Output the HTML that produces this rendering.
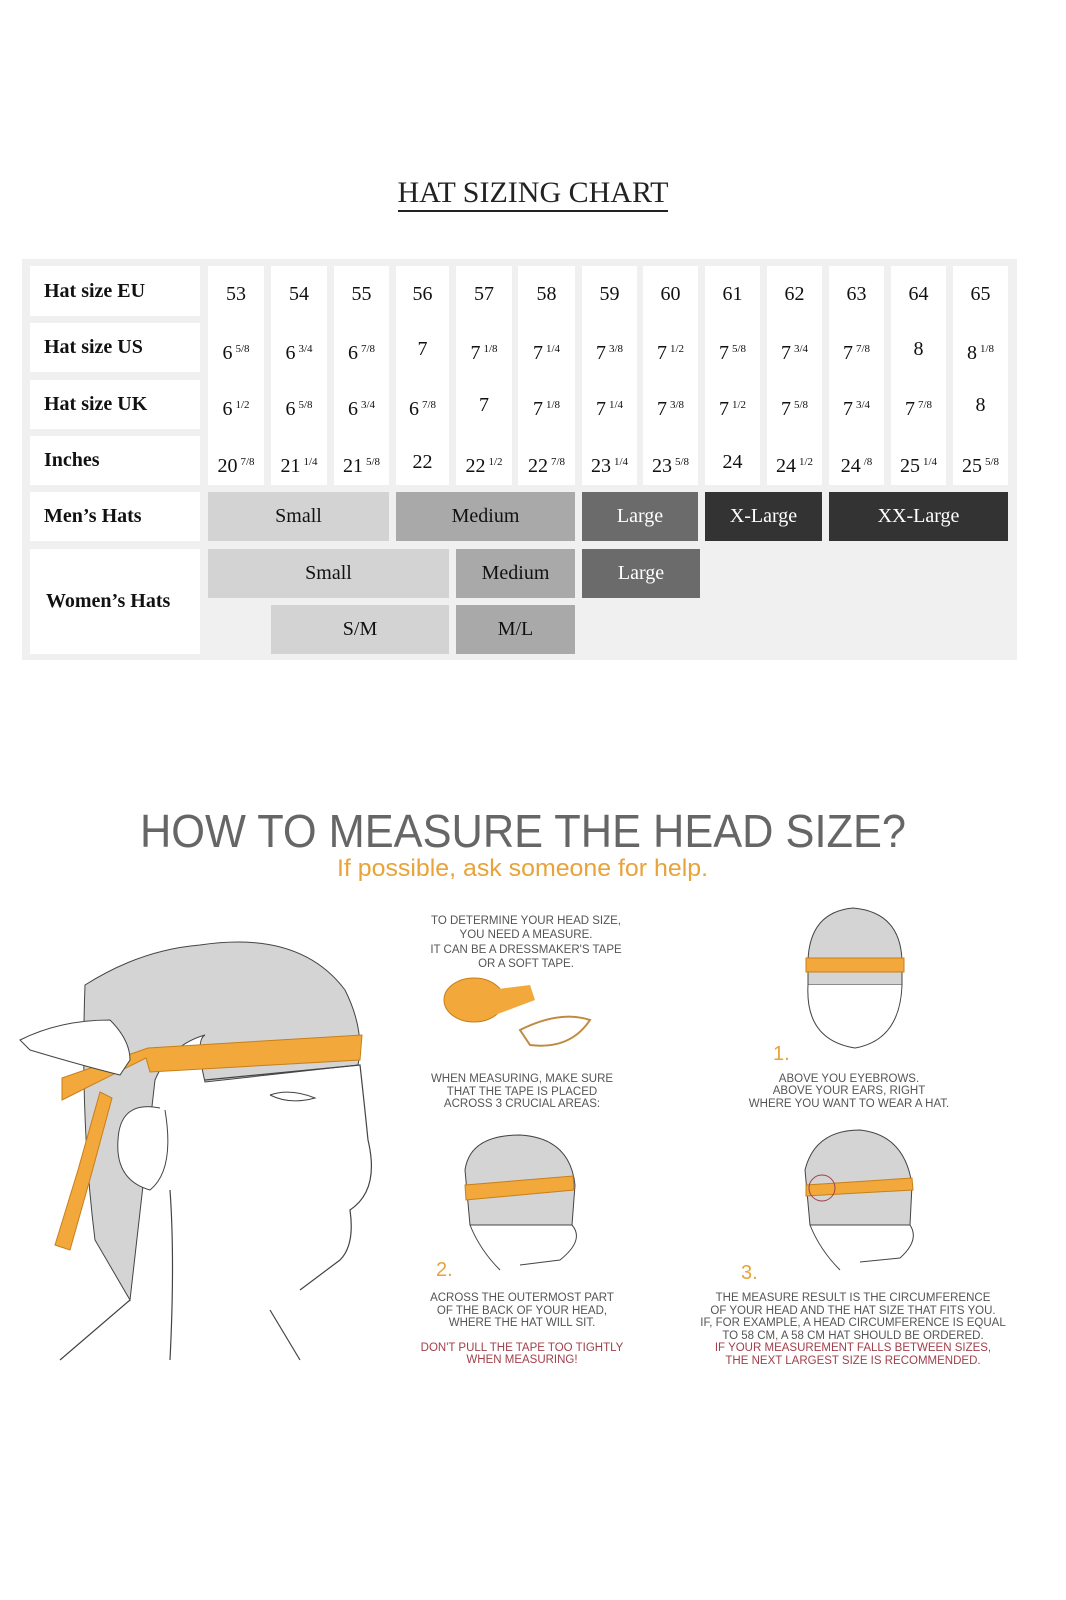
<!DOCTYPE html>
<html><head><meta charset="utf-8"><style>
*{margin:0;padding:0;box-sizing:border-box}
body{width:1066px;height:1600px;background:#fff;position:relative;overflow:hidden;font-family:"Liberation Serif",serif;color:#111}
.a{position:absolute}
.tb{position:absolute;left:22px;top:259px;width:995px;height:401px;background:#f0f0f0}
.lb{position:absolute;left:30px;width:170px;background:#fff;font-weight:bold;font-size:20px;padding-left:14px;display:flex;align-items:center}
.col{position:absolute;top:266px;height:219px;background:#fff}
.v{position:absolute;left:0;right:0;text-align:center;font-size:20px;line-height:20px}
.v sup{font-size:11px;vertical-align:7px;margin-left:3px}
.bd{position:absolute;display:flex;align-items:center;justify-content:center;font-size:20px}
</style></head><body>
<div class="a" style="left:0;width:1066px;top:176px;text-align:center;font-size:30px;color:#222"><span style="border-bottom:2px solid #222;padding-bottom:1px">HAT SIZING CHART</span></div>
<div class="tb"></div>
<div class="lb" style="top:266px;height:50px">Hat size EU</div>
<div class="lb" style="top:323px;height:49px">Hat size US</div>
<div class="lb" style="top:380px;height:49px">Hat size UK</div>
<div class="lb" style="top:436px;height:49px">Inches</div>
<div class="lb" style="top:492px;height:49px">Men’s Hats</div>
<div class="lb" style="top:549px;height:105px;padding-left:16px">Women’s Hats</div>

<div class="col" style="left:208px;width:56px"><div class="v" style="top:18px">53</div><div class="v" style="top:73px">6<sup>5/8</sup></div><div class="v" style="top:129px">6<sup>1/2</sup></div><div class="v" style="top:186px">20<sup>7/8</sup></div></div>
<div class="col" style="left:271px;width:56px"><div class="v" style="top:18px">54</div><div class="v" style="top:73px">6<sup>3/4</sup></div><div class="v" style="top:129px">6<sup>5/8</sup></div><div class="v" style="top:186px">21<sup>1/4</sup></div></div>
<div class="col" style="left:334px;width:55px"><div class="v" style="top:18px">55</div><div class="v" style="top:73px">6<sup>7/8</sup></div><div class="v" style="top:129px">6<sup>3/4</sup></div><div class="v" style="top:186px">21<sup>5/8</sup></div></div>
<div class="col" style="left:396px;width:53px"><div class="v" style="top:18px">56</div><div class="v" style="top:73px">7</div><div class="v" style="top:129px">6<sup>7/8</sup></div><div class="v" style="top:186px">22</div></div>
<div class="col" style="left:456px;width:56px"><div class="v" style="top:18px">57</div><div class="v" style="top:73px">7<sup>1/8</sup></div><div class="v" style="top:129px">7</div><div class="v" style="top:186px">22<sup>1/2</sup></div></div>
<div class="col" style="left:518px;width:57px"><div class="v" style="top:18px">58</div><div class="v" style="top:73px">7<sup>1/4</sup></div><div class="v" style="top:129px">7<sup>1/8</sup></div><div class="v" style="top:186px">22<sup>7/8</sup></div></div>
<div class="col" style="left:582px;width:55px"><div class="v" style="top:18px">59</div><div class="v" style="top:73px">7<sup>3/8</sup></div><div class="v" style="top:129px">7<sup>1/4</sup></div><div class="v" style="top:186px">23<sup>1/4</sup></div></div>
<div class="col" style="left:643px;width:55px"><div class="v" style="top:18px">60</div><div class="v" style="top:73px">7<sup>1/2</sup></div><div class="v" style="top:129px">7<sup>3/8</sup></div><div class="v" style="top:186px">23<sup>5/8</sup></div></div>
<div class="col" style="left:705px;width:55px"><div class="v" style="top:18px">61</div><div class="v" style="top:73px">7<sup>5/8</sup></div><div class="v" style="top:129px">7<sup>1/2</sup></div><div class="v" style="top:186px">24</div></div>
<div class="col" style="left:767px;width:55px"><div class="v" style="top:18px">62</div><div class="v" style="top:73px">7<sup>3/4</sup></div><div class="v" style="top:129px">7<sup>5/8</sup></div><div class="v" style="top:186px">24<sup>1/2</sup></div></div>
<div class="col" style="left:829px;width:55px"><div class="v" style="top:18px">63</div><div class="v" style="top:73px">7<sup>7/8</sup></div><div class="v" style="top:129px">7<sup>3/4</sup></div><div class="v" style="top:186px">24<sup>/8</sup></div></div>
<div class="col" style="left:891px;width:55px"><div class="v" style="top:18px">64</div><div class="v" style="top:73px">8</div><div class="v" style="top:129px">7<sup>7/8</sup></div><div class="v" style="top:186px">25<sup>1/4</sup></div></div>
<div class="col" style="left:953px;width:55px"><div class="v" style="top:18px">65</div><div class="v" style="top:73px">8<sup>1/8</sup></div><div class="v" style="top:129px">8</div><div class="v" style="top:186px">25<sup>5/8</sup></div></div>

<div class="bd" style="left:208px;top:492px;width:181px;height:49px;background:#d3d3d3">Small</div>
<div class="bd" style="left:396px;top:492px;width:179px;height:49px;background:#a9a9a9">Medium</div>
<div class="bd" style="left:582px;top:492px;width:116px;height:49px;background:#6b6b6b;color:#fff">Large</div>
<div class="bd" style="left:705px;top:492px;width:117px;height:49px;background:#333;color:#fff">X-Large</div>
<div class="bd" style="left:829px;top:492px;width:179px;height:49px;background:#333;color:#fff">XX-Large</div>
<div class="bd" style="left:208px;top:549px;width:241px;height:49px;background:#d3d3d3">Small</div>
<div class="bd" style="left:456px;top:549px;width:119px;height:49px;background:#a9a9a9">Medium</div>
<div class="bd" style="left:582px;top:549px;width:118px;height:49px;background:#6b6b6b;color:#fff">Large</div>
<div class="bd" style="left:271px;top:605px;width:178px;height:49px;background:#d3d3d3">S/M</div>
<div class="bd" style="left:456px;top:605px;width:119px;height:49px;background:#a9a9a9">M/L</div>

<svg class="a" style="left:0;top:0" width="1066" height="1600" font-family="Liberation Sans, sans-serif">
<text x="140" y="847" font-size="46" fill="#666" textLength="766" lengthAdjust="spacingAndGlyphs">HOW TO MEASURE THE HEAD SIZE?</text>
<text x="337" y="876" font-size="24" fill="#e8a33a" textLength="371" lengthAdjust="spacingAndGlyphs">If possible, ask someone for help.</text>
<g fill="#555" font-size="11.5" text-anchor="middle">
<text x="526" y="924">TO DETERMINE YOUR HEAD SIZE,</text>
<text x="526" y="938">YOU NEED A MEASURE.</text>
<text x="526" y="953">IT CAN BE A DRESSMAKER'S TAPE</text>
<text x="526" y="967">OR A SOFT TAPE.</text>
<text x="522" y="1082">WHEN MEASURING, MAKE SURE</text>
<text x="522" y="1095">THAT THE TAPE IS PLACED</text>
<text x="522" y="1107">ACROSS 3 CRUCIAL AREAS:</text>
<text x="849" y="1082">ABOVE YOU EYEBROWS.</text>
<text x="849" y="1094">ABOVE YOUR EARS, RIGHT</text>
<text x="849" y="1107">WHERE YOU WANT TO WEAR A HAT.</text>
<text x="522" y="1301">ACROSS THE OUTERMOST PART</text>
<text x="522" y="1314">OF THE BACK OF YOUR HEAD,</text>
<text x="522" y="1326">WHERE THE HAT WILL SIT.</text>
<text x="853" y="1301">THE MEASURE RESULT IS THE CIRCUMFERENCE</text>
<text x="853" y="1314">OF YOUR HEAD AND THE  HAT SIZE THAT FITS YOU.</text>
<text x="853" y="1326">IF, FOR EXAMPLE, A HEAD CIRCUMFERENCE IS EQUAL</text>
<text x="853" y="1339">TO 58 CM, A 58 CM HAT SHOULD BE ORDERED.</text>
</g>
<g fill="#a0404a" font-size="11.5" text-anchor="middle">
<text x="522" y="1351">DON'T PULL THE TAPE TOO TIGHTLY</text>
<text x="522" y="1363">WHEN MEASURING!</text>
<text x="853" y="1351">IF YOUR MEASUREMENT FALLS BETWEEN SIZES,</text>
<text x="853" y="1364">THE NEXT LARGEST SIZE IS RECOMMENDED.</text>
</g>
<g fill="#e8a33a" font-size="20"><text x="773" y="1060">1.</text><text x="436" y="1276">2.</text><text x="741" y="1279">3.</text></g>
<!-- big head -->
<path d="M85 985 Q140 950 200 945 Q300 930 345 990 Q365 1030 358 1065 L205 1082 Q195 1040 205 1035 Q170 1045 155 1080 L130 1300 L95 1240 Q80 1120 85 985Z" fill="#d4d4d4" stroke="#444" stroke-width="1"/>
<path d="M205 1080 L360 1065 Q365 1110 368 1140 Q380 1190 350 1210 Q355 1245 340 1260 L300 1290 M170 1190 Q175 1260 170 1360 M270 1310 L300 1360 M130 1300 L60 1360" fill="none" stroke="#444" stroke-width="1.2"/>
<path d="M160 1108 Q120 1100 118 1140 Q115 1180 150 1190 Q175 1170 165 1110" fill="#fff" stroke="#444"/>
<path d="M62 1100 L146 1058 L150 1072 L360 1060 L362 1035 L148 1048 L62 1078Z" fill="#f2a83a" stroke="#c77f1a"/>
<path d="M100 1092 L78 1170 L55 1245 L70 1250 L92 1172 L112 1098Z" fill="#f2a83a" stroke="#c77f1a"/>
<path d="M20 1040 Q60 1020 110 1020 Q130 1040 130 1060 L120 1075 Q80 1065 30 1050Z" fill="#fff" stroke="#444"/>
<path d="M270 1095 Q290 1088 315 1098 Q290 1105 270 1095" fill="none" stroke="#444"/>
<!-- tape roll -->
<ellipse cx="474" cy="1000" rx="30" ry="22" fill="#f2a83a" stroke="#c77f1a"/>
<path d="M490 990 L530 985 L535 1000 L495 1015Z" fill="#f2a83a"/>
<path d="M520 1030 Q560 1010 590 1020 Q570 1050 530 1045Z" fill="none" stroke="#c08a40" stroke-width="2"/>
<!-- head 1 -->
<path d="M808 960 Q810 912 853 908 Q900 912 902 960 L902 985 L808 985Z" fill="#d4d4d4" stroke="#444"/>
<path d="M808 985 Q805 1040 855 1048 Q900 1040 902 985" fill="#fff" stroke="#444"/>
<rect x="806" y="958" width="98" height="14" fill="#f2a83a" stroke="#c77f1a"/>
<!-- head 2 -->
<path d="M465 1170 Q470 1135 520 1135 Q570 1138 575 1185 L572 1225 L470 1225Z" fill="#d4d4d4" stroke="#444"/>
<path d="M470 1225 Q480 1250 500 1270 M572 1225 Q585 1240 560 1260 L520 1265" fill="none" stroke="#444"/>
<path d="M465 1185 L573 1176 L574 1190 L466 1200Z" fill="#f2a83a" stroke="#c77f1a"/>
<!-- head 3 -->
<path d="M805 1170 Q815 1130 860 1130 Q905 1135 912 1185 L910 1225 L810 1225Z" fill="#d4d4d4" stroke="#444"/>
<path d="M810 1225 Q820 1250 840 1270 M910 1225 Q920 1240 900 1258 L860 1262" fill="none" stroke="#444"/>
<path d="M806 1185 L912 1178 L913 1190 L806 1196Z" fill="#f2a83a" stroke="#c77f1a"/>
<circle cx="822" cy="1188" r="13" fill="none" stroke="#a0404a"/>
</svg>
</body></html>
